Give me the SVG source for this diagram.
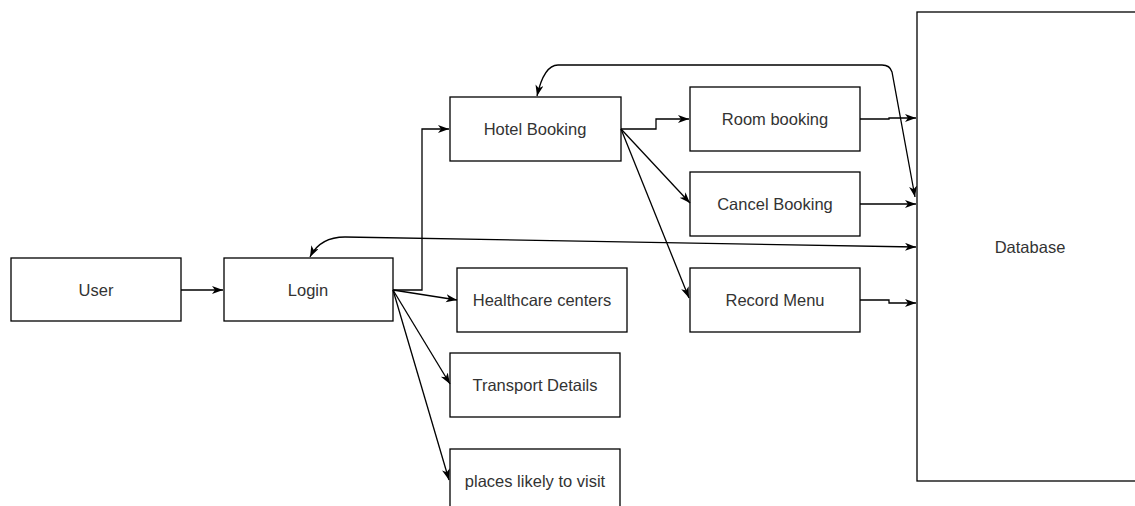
<svg xmlns="http://www.w3.org/2000/svg" width="1135" height="506" viewBox="0 0 1135 506">
<defs>
<marker id="arr" markerUnits="userSpaceOnUse" markerWidth="12" markerHeight="9" refX="11" refY="4" orient="auto-start-reverse">
<path d="M0,0 L11,4 L0,8 L3,4 Z" fill="#000"/>
</marker>
<style>
.box{fill:#fff;stroke:#000;stroke-width:1.3}
.lbl{font-family:"Liberation Sans",Arial,sans-serif;font-size:16.5px;fill:#333;text-anchor:middle;dominant-baseline:central}
.c{fill:none;stroke:#000;stroke-width:1.3;marker-end:url(#arr)}
.b{marker-start:url(#arr)}
</style>
</defs>
<rect width="1135" height="506" fill="#fff"/>
<g id="database"><rect class="box" x="917" y="12" width="240" height="469"/><text class="lbl" x="1030" y="247">Database</text></g>
<g id="user"><rect class="box" x="11" y="258" width="170" height="63"/><text class="lbl" x="96" y="290">User</text></g>
<g id="login"><rect class="box" x="224" y="258" width="169" height="63"/><text class="lbl" x="308" y="290">Login</text></g>
<g id="hotel-booking"><rect class="box" x="450" y="97" width="171" height="64"/><text class="lbl" x="535" y="129">Hotel Booking</text></g>
<g id="room-booking"><rect class="box" x="690" y="87" width="170" height="64"/><text class="lbl" x="775" y="119">Room booking</text></g>
<g id="cancel-booking"><rect class="box" x="690" y="172" width="170" height="64"/><text class="lbl" x="775" y="204">Cancel Booking</text></g>
<g id="record-menu"><rect class="box" x="690" y="268" width="170" height="64"/><text class="lbl" x="775" y="300">Record Menu</text></g>
<g id="healthcare"><rect class="box" x="457" y="268" width="170" height="64"/><text class="lbl" x="542" y="300">Healthcare centers</text></g>
<g id="transport"><rect class="box" x="450" y="353" width="170" height="64"/><text class="lbl" x="535" y="385">Transport Details</text></g>
<g id="places"><rect class="box" x="450" y="449" width="170" height="64"/><text class="lbl" x="535" y="481">places likely to visit</text></g>
<g id="connectors">
<path class="c" d="M181 290 L223 290"/>
<path class="c" d="M393 290 L422 290 L422 129 L449 129"/>
<path class="c" d="M393 290 L457 300"/>
<path class="c" d="M393 290 L450 384"/>
<path class="c" d="M393 290 L449 480"/>
<path class="c" d="M621 129 L656 129 L656 119 L689 119"/>
<path class="c" d="M621 129 L690 203"/>
<path class="c" d="M621 129 L689 298"/>
<path class="c" d="M860 119 L889 119 L889 118 L916 118"/>
<path class="c" d="M860 204 L916 204"/>
<path class="c" d="M860 300 L889 300 L889 303 L916 303"/>
<path class="c b" d="M310 257 Q320 237 345 237 L916 247"/>
<path class="c b" d="M537 96 Q544 65 558 65 L882 65 Q890 65 892 72 L915 197"/>
</g>
</svg>
